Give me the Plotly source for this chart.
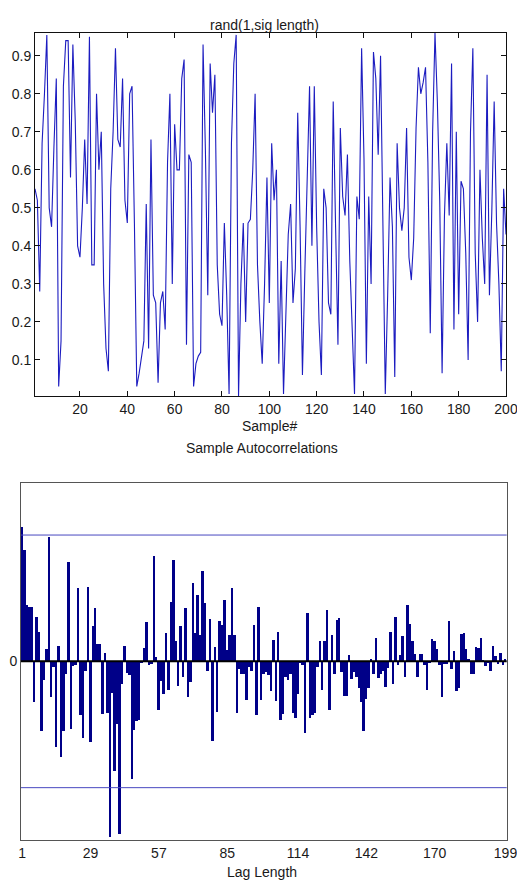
import plotly.graph_objects as go

# ---- data ----
sample_idx = list(range(1, 201))
signal = [
    0.55, 0.52, 0.28, 0.67, 0.80, 0.955, 0.50, 0.45, 0.66, 0.84,
    0.03, 0.15, 0.82, 0.94, 0.94, 0.58, 0.93, 0.73, 0.40, 0.37,
    0.50, 0.68, 0.51, 0.95, 0.35, 0.35, 0.80, 0.60, 0.70, 0.30,
    0.13, 0.07, 0.55, 0.70, 0.92, 0.68, 0.66, 0.84, 0.52, 0.46,
    0.80, 0.82, 0.46, 0.03, 0.065, 0.11, 0.15, 0.51, 0.13, 0.68,
    0.27, 0.25, 0.04, 0.25, 0.28, 0.18, 0.62, 0.80, 0.30, 0.72,
    0.60, 0.60, 0.84, 0.89, 0.14, 0.64, 0.62, 0.03, 0.09, 0.11,
    0.12, 0.93, 0.65, 0.27, 0.88, 0.75, 0.85, 0.35, 0.22, 0.19,
    0.46, 0.27, 0.01, 0.67, 0.88, 0.955, 0.005, 0.30, 0.46, 0.20,
    0.46, 0.47, 0.60, 0.80, 0.35, 0.20, 0.09, 0.30, 0.58, 0.25,
    0.67, 0.52, 0.60, 0.09, 0.36, 0.01, 0.20, 0.43, 0.51, 0.25,
    0.34, 0.75, 0.45, 0.06, 0.33, 0.56, 0.82, 0.40, 0.82, 0.45,
    0.20, 0.06, 0.55, 0.50, 0.25, 0.22, 0.78, 0.45, 0.14, 0.71,
    0.53, 0.48, 0.64, 0.36, 0.17, 0.01, 0.53, 0.47, 0.92, 0.63,
    0.09, 0.53, 0.30, 0.91, 0.84, 0.64, 0.90, 0.40, 0.01, 0.27,
    0.58, 0.45, 0.055, 0.67, 0.50, 0.44, 0.50, 0.71, 0.37, 0.31,
    0.42, 0.71, 0.87, 0.80, 0.83, 0.87, 0.62, 0.17, 0.70, 0.96,
    0.78, 0.52, 0.065, 0.48, 0.67, 0.48, 0.88, 0.18, 0.70, 0.22,
    0.57, 0.55, 0.38, 0.10, 0.70, 0.92, 0.38, 0.20, 0.60, 0.42,
    0.30, 0.85, 0.27, 0.49, 0.78, 0.46, 0.30, 0.07, 0.55, 0.43,
]
top_xticks = [20, 40, 60, 80, 100, 120, 140, 160, 180, 200]
top_yticks = [0.1, 0.2, 0.3, 0.4, 0.5, 0.6, 0.7, 0.8, 0.9]

lags = list(range(1, 200))
acf = [
    0.151, 0.125, 0.063, 0.061, 0.061, -0.045, 0.05, 0.033, -0.078, -0.021,
    0.014, 0.14, -0.04, -0.006, -0.096, 0.017, -0.107, -0.078, -0.014, 0.112,
    -0.075, -0.005, -0.004, 0.082, -0.06, -0.085, -0.01, 0.084, -0.09, 0.04,
    0.06, 0.02, 0.02, -0.059, 0.01, -0.057, -0.196, -0.035, -0.122, -0.07,
    -0.193, -0.025, 0.018, -0.013, -0.015, -0.131, -0.077, -0.066, -0.065, -0.002,
    0.015, 0.044, -0.004, -0.003, 0.118, 0.005, -0.054, -0.022, -0.036, 0.032,
    -0.032, 0.067, 0.114, 0.023, -0.027, 0.04, -0.017, 0.06, -0.04, -0.023,
    0.088, 0.032, 0.075, 0.03, 0.102, 0.066, -0.01, 0.048, -0.089, 0.016,
    -0.056, 0.045, 0.041, 0.069, 0.013, 0.03, 0.082, 0.03, -0.058, -0.008,
    -0.014, -0.014, -0.043, -0.006, -0.01, 0.041, -0.06, 0.061, -0.043, -0.014,
    -0.012, -0.015, -0.033, 0.024, -0.044, 0.033, -0.065, -0.059, -0.017, -0.02,
    -0.014, -0.058, -0.063, -0.036, -0.002, -0.004, -0.08, 0.055, -0.063, -0.06,
    -0.057, -0.006, 0.023, -0.032, 0.023, 0.058, -0.054, 0.03, -0.014, 0.047,
    0.049, -0.012, -0.039, -0.039, 0.007, -0.019, -0.012, -0.017, -0.03, -0.045,
    -0.078, -0.042, -0.029, 0.003, -0.014, 0.026, -0.018, -0.014, -0.01, -0.028,
    -0.007, 0.033, -0.025, 0.05, -0.004, 0.008, 0.029, -0.017, 0.063, 0.042,
    0.023, 0.009, -0.017, 0.009, 0.009, -0.004, -0.032, -0.002, 0.025, 0.023,
    0.014, -0.004, -0.04, -0.003, -0.003, 0.046, -0.008, 0.012, -0.033, -0.03,
    0.031, 0.032, 0.014, 0.003, -0.014, -0.014, 0.016, 0.015, 0.026, 0.002,
    -0.005, -0.002, -0.01, 0.017, 0.006, -0.003, 0.01, -0.004, 0.003,
]
conf_bound = 0.1414
acf_ylim = 0.2
lag_ticks = [1, 29, 57, 85, 114, 142, 170, 199]

W, H = 517, 882
FONT = "Liberation Sans, Arial, Helvetica, sans-serif"
TXT = "#1a1a1a"

def fx(px):
    return px / W

def fy(py):
    return 1 - py / H

fig = go.Figure()

fig.add_trace(go.Scatter(
    x=sample_idx, y=signal, mode="lines",
    line=dict(color="#1c1cc0", width=1.1),
    xaxis="x", yaxis="y", showlegend=False, hoverinfo="skip",
))

fig.add_trace(go.Bar(
    x=lags, y=acf, width=0.8,
    marker=dict(color="#000088", line=dict(width=0)),
    xaxis="x2", yaxis="y2", showlegend=False, hoverinfo="skip",
))

common = dict(showgrid=False, zeroline=False, automargin=False,
              ticklabeloverflow="allow", tickfont=dict(size=14, color=TXT))

fig.update_layout(
    width=W, height=H,
    margin=dict(l=0, r=0, t=0, b=0),
    paper_bgcolor="white", plot_bgcolor="white",
    font=dict(family=FONT, size=14, color=TXT),
    bargap=0,
    xaxis=dict(
        domain=[fx(35), fx(506)], range=[1, 200],
        tickvals=top_xticks, ticks="inside", ticklen=5, tickcolor="#111",
        showline=True, linecolor="#111", linewidth=1, mirror="ticks",
        anchor="y", **common,
    ),
    yaxis=dict(
        domain=[fy(396), fy(33)], range=[min(signal), max(signal)],
        tickvals=top_yticks, tickformat=".1f",
        ticks="inside", ticklen=5, tickcolor="#111",
        showline=True, linecolor="#111", linewidth=1, mirror="ticks",
        anchor="x", **common,
    ),
    xaxis2=dict(
        domain=[fx(21), fx(506.7)], range=[0.5, 199.5],
        tickvals=lag_ticks, ticks="",
        showline=True, linecolor="#555", linewidth=1, mirror=True,
        anchor="y2", **common,
    ),
    yaxis2=dict(
        domain=[fy(840), fy(482.7)], range=[-acf_ylim, acf_ylim],
        tickvals=[0], ticktext=["0"], ticks="",
        showline=True, linecolor="#555", linewidth=1, mirror=True,
        anchor="x2", **common,
    ),
    shapes=[
        dict(type="line", xref="x2 domain", yref="y2", x0=0, x1=1,
             y0=conf_bound, y1=conf_bound, line=dict(color="#4848c0", width=1), layer="above"),
        dict(type="line", xref="x2 domain", yref="y2", x0=0, x1=1,
             y0=-conf_bound, y1=-conf_bound, line=dict(color="#4848c0", width=1), layer="above"),
        dict(type="line", xref="x2 domain", yref="y2", x0=0, x1=1,
             y0=0, y1=0, line=dict(color="#000000", width=2), layer="above"),
    ],
    annotations=[
        dict(text="rand(1,sig length)", x=fx(264), y=fy(25), xref="paper", yref="paper",
             showarrow=False, xanchor="center", yanchor="middle", font=dict(size=14, color=TXT)),
        dict(text="Sample#", x=fx(269), y=fy(426), xref="paper", yref="paper",
             showarrow=False, xanchor="center", yanchor="middle", font=dict(size=14, color=TXT)),
        dict(text="Sample Autocorrelations", x=fx(262), y=fy(448), xref="paper", yref="paper",
             showarrow=False, xanchor="center", yanchor="middle", font=dict(size=14, color=TXT)),
        dict(text="Lag Length", x=fx(262), y=fy(872), xref="paper", yref="paper",
             showarrow=False, xanchor="center", yanchor="middle", font=dict(size=14, color=TXT)),
    ],
)

fig.write_html(
    "out.html",
    config={"displayModeBar": False},
    post_script="document.body.style.margin='0';document.body.style.overflow='hidden';",
)
